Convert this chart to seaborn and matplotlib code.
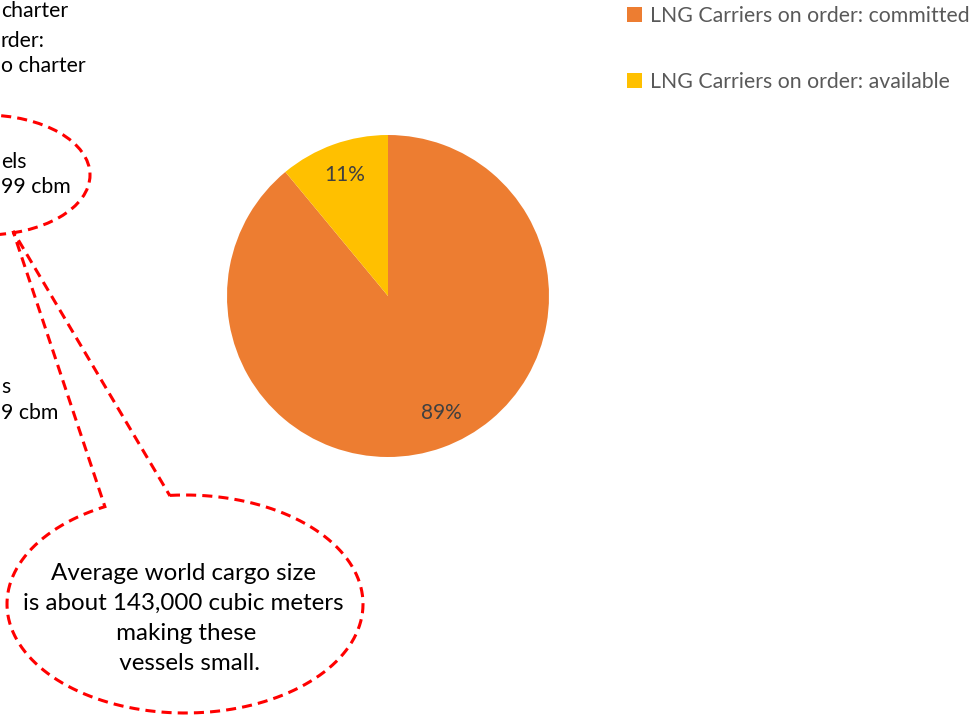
import numpy as np
import pandas as pd
import matplotlib
matplotlib.use("Agg")
import matplotlib.pyplot as plt
from matplotlib.patches import Ellipse, PathPatch
from matplotlib.path import Path
import seaborn as sns

# ---------------- data ----------------
categories = ["LNG Carriers on order: committed", "LNG Carriers on order: available"]
shares = [89, 11]
colors = ["#ED7D31", "#FFC000"]

# fragments of notes that are visible at the left edge of the source picture
note_lines = ["charter", "rder:", "o charter", "els", "99 cbm", "s", "9 cbm"]
callout_lines = ["Average world cargo size", "is about 143,000 cubic meters",
                 " making these", "  vessels small."]

# ---------------- style ----------------
sns.set_theme(style="white")
plt.rcParams['font.family'] = ['Lato', 'DejaVu Sans']

W, H = 980, 721
fig = plt.figure(figsize=(9.8, 7.21), dpi=100)
fig.patch.set_facecolor("white")
renderer = fig.canvas.get_renderer()


def size_for(s, width_px, base=20):
    t = fig.text(0, 0, s, fontsize=base)
    w = t.get_window_extent(renderer).width
    t.remove()
    return base * width_px / w


def fx(x):
    return x / W


def fy(y):
    return 1 - y / H


# overlay axes in pixel coordinates (for annotations)
ov = fig.add_axes([0, 0, 1, 1])
ov.set_xlim(0, W)
ov.set_ylim(H, 0)
ov.axis("off")

# ---------------- pie ----------------
cx, cy, r = 388, 296, 161
ax = fig.add_axes([fx(cx - r), fy(cy + r), 2 * r / W, 2 * r / H])
df = pd.DataFrame({"category": categories, "share": shares})
palette = sns.color_palette(colors)
pct_fs = size_for("89%", 41)
wedges, _txt, autotexts = ax.pie(
    df["share"], colors=palette, startangle=90, counterclock=False,
    autopct="%.0f%%", pctdistance=0.80,
    wedgeprops=dict(linewidth=0),
    textprops=dict(color="#404040", fontsize=pct_fs))
# nudge the large-slice label slightly like the source
x0, y0 = autotexts[0].get_position()
ang = np.arctan2(y0, x0) + np.deg2rad(4.5)
rad = np.hypot(x0, y0)
autotexts[0].set_position((rad * np.cos(ang), rad * np.sin(ang)))
ax.set_xlim(-1, 1)
ax.set_ylim(-1, 1)
ax.set_aspect("equal")
ax.axis("off")

# ---------------- legend ----------------
leg_fs = size_for(categories[0], 320)
leg = ax.legend(wedges, df["category"], loc="upper left",
                bbox_to_anchor=(fx(627), fy(6)), bbox_transform=fig.transFigure,
                frameon=False, fontsize=leg_fs, labelcolor="#595959",
                handlelength=0.72, handleheight=0.72, handletextpad=0.35,
                labelspacing=2.15, borderaxespad=0, borderpad=0)

# ---------------- left notes (fragments at the picture edge) ----------------
note_pos = [(1, 17), (1, 47), (1, 72), (1, 168), (1, 193), (1, 393), (1, 419)]
for s, (x, y) in zip(note_lines, note_pos):
    ov.text(x, y, s, ha="left", va="baseline", fontsize=leg_fs, color="#000000")

# ---------------- dashed shapes ----------------
red = "#FF0000"
dash = (0, (3.3, 2.0))
ov.add_patch(Ellipse((-15, 175), 210, 120, fill=False, edgecolor=red,
                     linewidth=2.2, linestyle=dash))

ecx, ecy, ea, eb = 185, 604, 178, 109
A = (106, 508)
B = (170, 496)
tip = (13, 231)
tA = np.arctan2((A[1] - ecy) / eb, (A[0] - ecx) / ea)
tB = np.arctan2((B[1] - ecy) / eb, (B[0] - ecx) / ea)
if tA < tB:
    tA += 2 * np.pi
ts = np.linspace(tB, tA, 300)
pts = np.column_stack([ecx + ea * np.cos(ts), ecy + eb * np.sin(ts)])
pts = np.vstack([pts, [tip], [B]])
ov.add_patch(PathPatch(Path(pts), fill=False, edgecolor=red, linewidth=2.2,
                       linestyle=dash, joinstyle="miter"))

call_fs = size_for(callout_lines[1], 322)
for i, s in enumerate(callout_lines):
    ov.text(183, 580 + 30 * i, s, ha="center", va="baseline", fontsize=call_fs,
            color="#000000")

fig.savefig("out.png", dpi=100)
